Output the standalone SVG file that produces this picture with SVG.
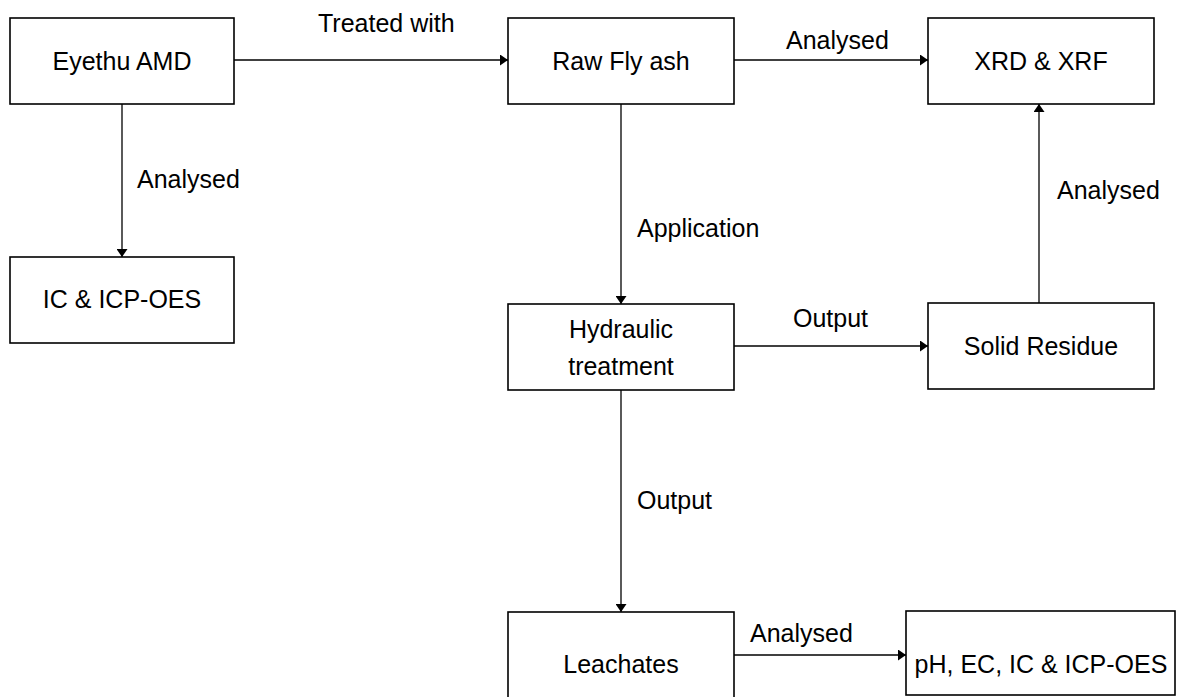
<svg xmlns="http://www.w3.org/2000/svg" width="1177" height="697" viewBox="0 0 1177 697">
  <defs>
    <style>
      .box { fill: #ffffff; stroke: #000000; stroke-width: 1.6; }
      .txt { font-family: "Liberation Sans", Arial, sans-serif; font-size: 25px; fill: #000000; }
      .mid { text-anchor: middle; }
      .edge { fill: none; stroke: #000000; stroke-width: 1.3; marker-end: url(#arrow); }
    </style>
    <marker id="arrow" viewBox="0 0 8 11" refX="8" refY="5.5" markerWidth="8" markerHeight="11" markerUnits="userSpaceOnUse" orient="auto">
      <path d="M0,0 L8,5.5 L0,11 Z" fill="#000000"/>
    </marker>
  </defs>
  <rect width="1177" height="697" fill="#ffffff"/>

  <!-- connectors and their labels -->
  <g id="connectors">
    <line class="edge" x1="234" y1="60" x2="508" y2="60"/>
    <line class="edge" x1="734" y1="60" x2="928" y2="60"/>
    <line class="edge" x1="122" y1="104" x2="122" y2="257"/>
    <line class="edge" x1="621" y1="104" x2="621" y2="304"/>
    <line class="edge" x1="734" y1="346" x2="928" y2="346"/>
    <line class="edge" x1="1039" y1="303" x2="1039" y2="104"/>
    <line class="edge" x1="621" y1="390" x2="621" y2="612"/>
    <line class="edge" x1="734" y1="655" x2="906" y2="655"/>
    <text class="txt" x="318" y="32">Treated with</text>
    <text class="txt" x="786" y="49">Analysed</text>
    <text class="txt" x="137" y="188">Analysed</text>
    <text class="txt" x="637" y="237">Application</text>
    <text class="txt" x="1057" y="199">Analysed</text>
    <text class="txt" x="793" y="327">Output</text>
    <text class="txt" x="637" y="509">Output</text>
    <text class="txt" x="750" y="642">Analysed</text>
  </g>

  <g id="eyethu-amd">
    <rect class="box" x="10" y="18" width="224" height="86"/>
    <text class="txt mid" x="122" y="70">Eyethu AMD</text>
  </g>
  <g id="raw-fly-ash">
    <rect class="box" x="508" y="18" width="226" height="86"/>
    <text class="txt mid" x="621" y="70">Raw Fly ash</text>
  </g>
  <g id="xrd-xrf">
    <rect class="box" x="928" y="18" width="226" height="86"/>
    <text class="txt mid" x="1041" y="70">XRD &amp; XRF</text>
  </g>
  <g id="ic-icp-oes">
    <rect class="box" x="10" y="257" width="224" height="86"/>
    <text class="txt mid" x="122" y="308">IC &amp; ICP-OES</text>
  </g>
  <g id="hydraulic-treatment">
    <rect class="box" x="508" y="304" width="226" height="86"/>
    <text class="txt mid" x="621" y="338">Hydraulic</text>
    <text class="txt mid" x="621" y="375">treatment</text>
  </g>
  <g id="solid-residue">
    <rect class="box" x="928" y="303" width="226" height="86"/>
    <text class="txt mid" x="1041" y="355">Solid Residue</text>
  </g>
  <g id="leachates">
    <rect class="box" x="508" y="612" width="226" height="92"/>
    <text class="txt mid" x="621" y="673">Leachates</text>
  </g>
  <g id="ph-ec-ic-icp-oes">
    <rect class="box" x="906" y="611" width="269" height="84"/>
    <text class="txt mid" x="1041" y="673">pH, EC, IC &amp; ICP-OES</text>
  </g>
</svg>
